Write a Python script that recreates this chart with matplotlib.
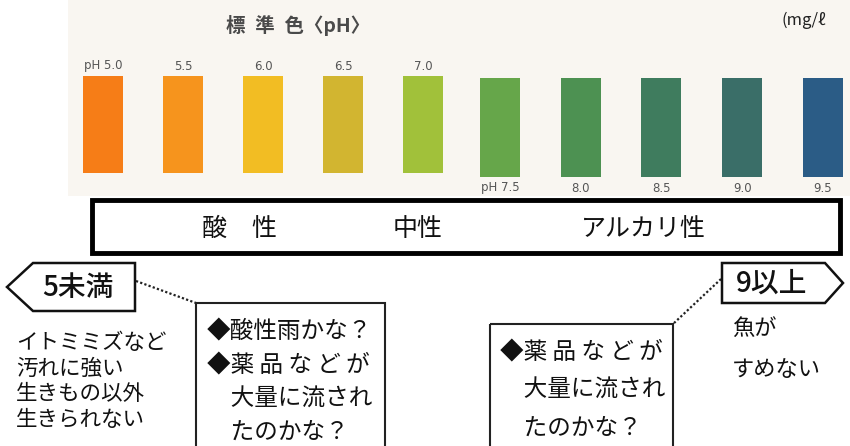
import matplotlib
matplotlib.use("Agg")
import matplotlib.pyplot as plt
from matplotlib.patches import Polygon, Rectangle

plt.rcParams['font.family'] = ['Noto Sans CJK JP', 'DejaVu Sans']

# ---- data ----
ph_top = ["pH 5.0", "5.5", "6.0", "6.5", "7.0"]
ph_bottom = ["pH 7.5", "8.0", "8.5", "9.0", "9.5"]
colors_top = ["#f67d17", "#f6941d", "#f2bd23", "#d2b530", "#a1c13a"]
colors_bottom = ["#66a64a", "#4d9152", "#3f7c5e", "#3a6e68", "#2b5c86"]
title = "標\u2002準\u2002色〈pH〉"
unit = "(mg/ℓ"
categories = ["酸\u3000性", "中性", "アルカリ性"]
low_label = "5未満"
high_label = "9以上"
low_desc = ["イトミミズなど", "汚れに強い", "生きもの以外", "生きられない"]
low_box = ["◆酸性雨かな？", "◆薬 品 な ど が", "　大量に流され", "　たのかな？"]
high_box = ["◆薬 品 な ど が", "　大量に流され", "　たのかな？"]
high_desc = ["魚が", "すめない"]

W, H = 850, 446
fig = plt.figure(figsize=(W / 100, H / 100), dpi=100)
ax = fig.add_axes([0, 0, 1, 1])
ax.set_xlim(0, W)
ax.set_ylim(H, 0)
ax.axis("off")

# photo background
ax.add_patch(Rectangle((68, 0), W - 68, 196, color="#f9f6f1", zorder=0, lw=0))

ax.text(298, 25, title, ha="center", va="center", fontsize=14,
        fontweight="bold", color="#4a4a4a")
ax.text(782, 20, unit, ha="left", va="center", fontsize=12, color="#222222")

# swatches
xt = [103 + 80 * i for i in range(len(ph_top))]
ax.bar(xt, [97] * len(xt), bottom=76, width=40, color=colors_top, zorder=2)
for x, lab in zip(xt, ph_top):
    ax.text(x, 66, lab, ha="center", va="center", fontsize=8.5, color="#555555",
            family=["DejaVu Sans"])
xb = [500 + 80.7 * i for i in range(len(ph_bottom))]
ax.bar(xb, [99] * len(xb), bottom=78, width=40, color=colors_bottom, zorder=2)
for x, lab in zip(xb, ph_bottom):
    ax.text(x, 188, lab, ha="center", va="center", fontsize=8.5, color="#555555",
            family=["DejaVu Sans"])

# category band
ax.add_patch(Rectangle((92, 200), 748, 53, fill=True, facecolor="white",
                       edgecolor="black", lw=3.5, zorder=3))
for x, c in zip([240, 418, 643], categories):
    ax.text(x, 229, c, ha="center", va="center", fontsize=18, color="#111111", zorder=4)

# low pentagon
ax.add_patch(Polygon([(7, 287), (33, 263), (135, 263), (135, 311), (33, 311)],
                     closed=True, facecolor="white", edgecolor="#111111", lw=1.8, zorder=3))
ax.text(78, 287, low_label, ha="center", va="center", fontsize=20,
        fontweight="medium", color="#111111", zorder=4)
ax.plot([136, 196], [281, 303], linestyle=(0, (1, 1)), color="#222222", lw=1.6)

# high pentagon
ax.add_patch(Polygon([(722, 263), (825, 263), (843, 283), (825, 303), (722, 303)],
                     closed=True, facecolor="white", edgecolor="#111111", lw=1.8, zorder=3))
ax.text(772, 283, high_label, ha="center", va="center", fontsize=20,
        fontweight="medium", color="#111111", zorder=4)
ax.plot([721, 673], [279, 324], linestyle=(0, (1, 1)), color="#222222", lw=1.6)

# low desc
for i, line in enumerate(low_desc):
    ax.text(16, 343 + 25.5 * i, line, ha="left", va="center", fontsize=15.5,
            color="#111111")

# low box
ax.add_patch(Rectangle((196, 303), 189, 160, fill=False, edgecolor="#222222", lw=1.5))
for i, line in enumerate(low_box):
    ax.text(207, 332 + 33.5 * i, line, ha="left", va="center", fontsize=17,
            color="#111111")

# high box
ax.add_patch(Rectangle((490, 324), 183, 140, fill=False, edgecolor="#222222", lw=1.5))
for i, line in enumerate(high_box):
    ax.text(500, 353 + 37.5 * i, line, ha="left", va="center", fontsize=17,
            color="#111111")

# high desc
for i, line in enumerate(high_desc):
    ax.text(732, 328 + 42 * i, line, ha="left", va="center", fontsize=16,
            color="#111111")

fig.savefig("out.png", dpi=100)
